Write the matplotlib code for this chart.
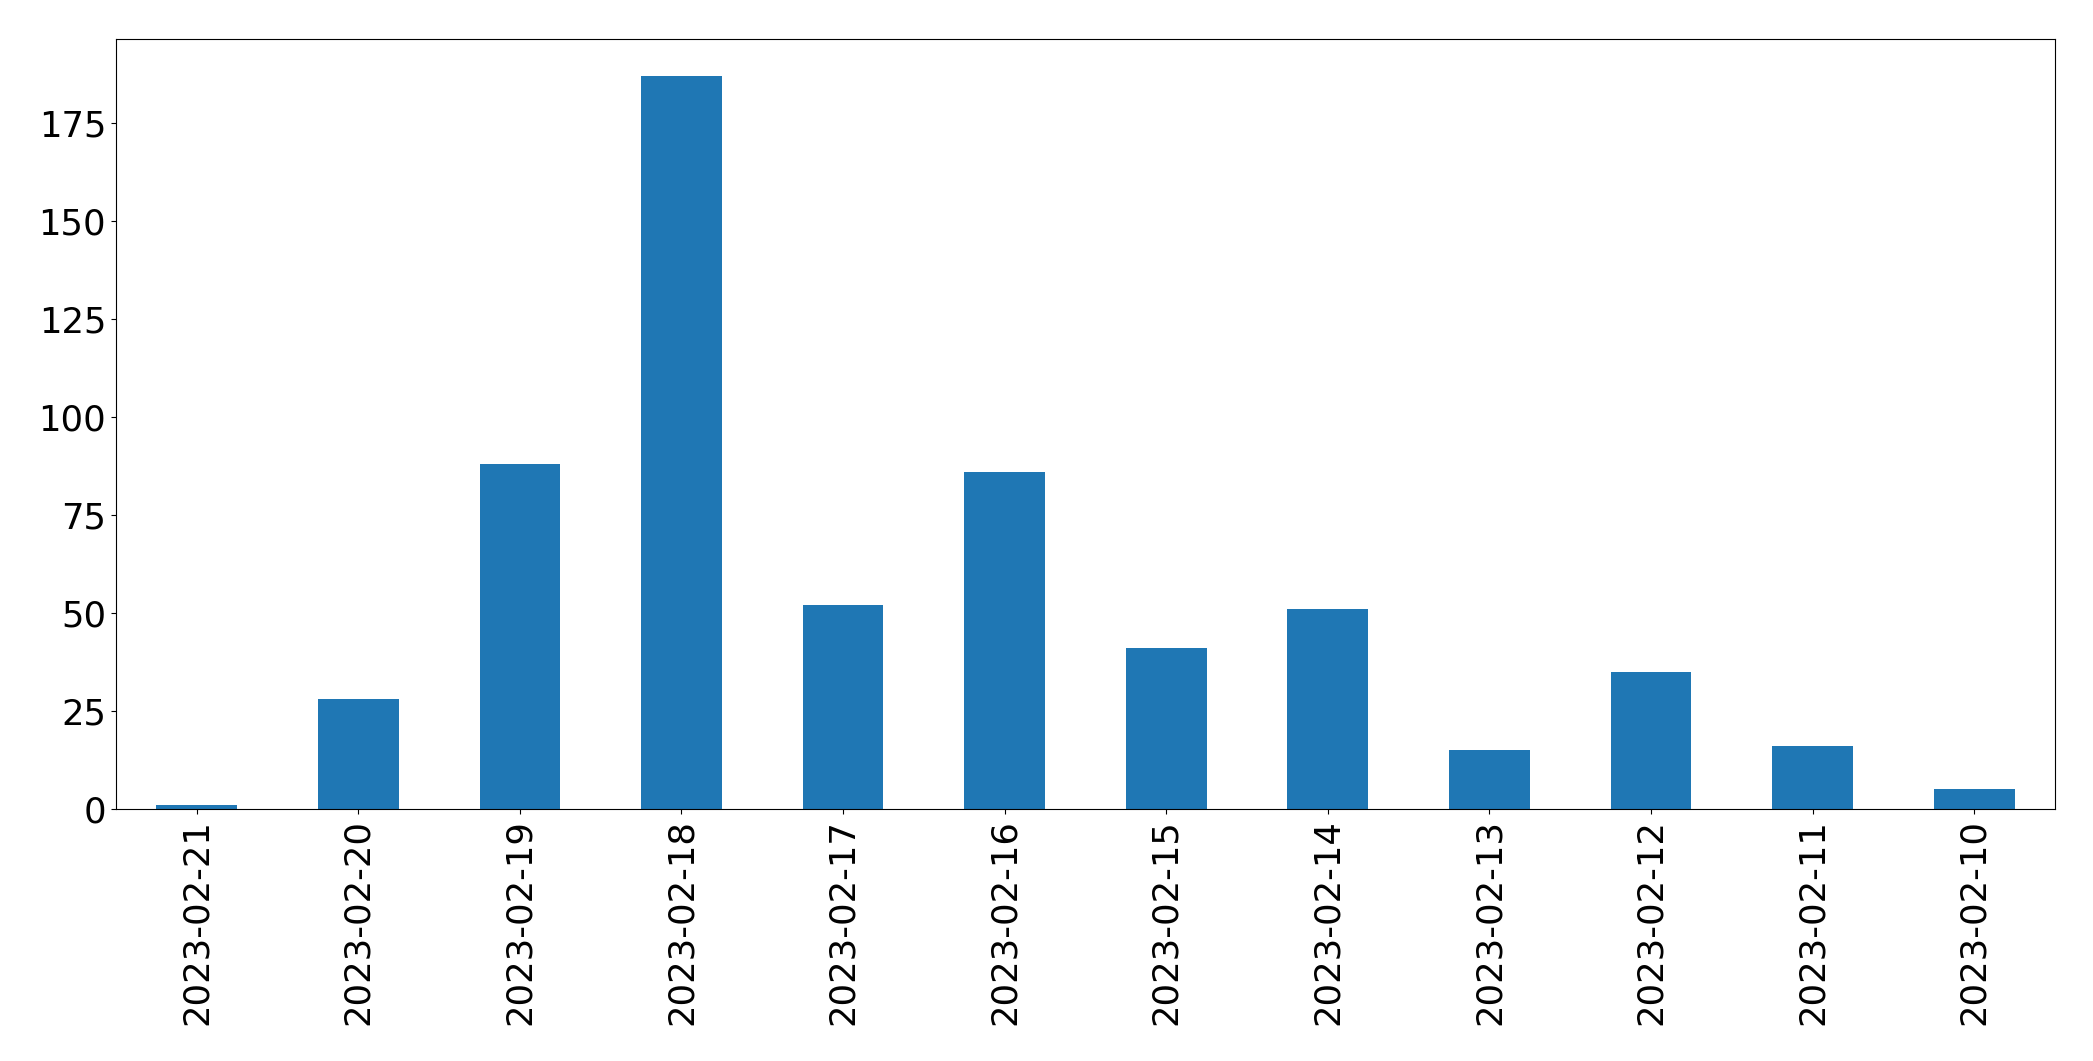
import matplotlib
matplotlib.use("Agg")
import matplotlib.pyplot as plt
import pandas as pd

dates = ["2023-02-21", "2023-02-20", "2023-02-19", "2023-02-18", "2023-02-17",
         "2023-02-16", "2023-02-15", "2023-02-14", "2023-02-13", "2023-02-12",
         "2023-02-11", "2023-02-10"]
counts = [1, 28, 88, 187, 52, 86, 41, 51, 15, 35, 16, 5]

series = pd.Series(counts, index=dates)

fig = plt.figure(figsize=(20.93, 10.61), dpi=100)
ax = fig.add_axes([0.0554, 0.2375, 0.9818 - 0.0554, 0.9632 - 0.2375])
series.plot(kind="bar", ax=ax, color="#1f77b4", width=0.5)
ax.tick_params(axis="both", labelsize=25.5)
ax.set_yticks([0, 25, 50, 75, 100, 125, 150, 175])
for lbl in ax.get_xticklabels():
    lbl.set_rotation(90)

fig.savefig("out.png", dpi=100)
